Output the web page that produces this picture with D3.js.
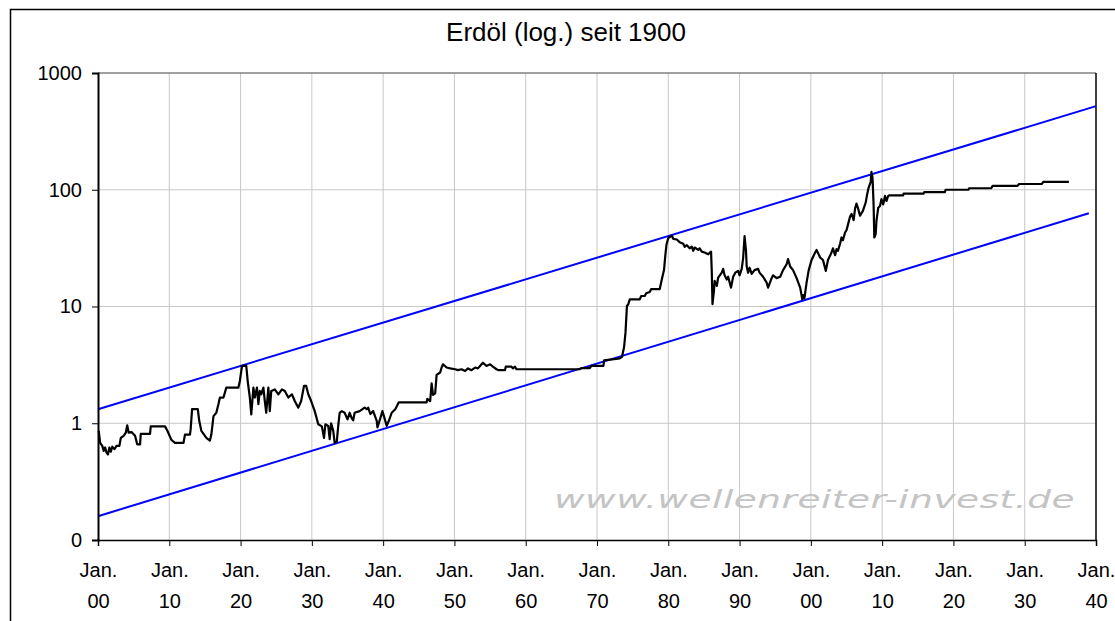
<!DOCTYPE html>
<html>
<head>
<meta charset="utf-8">
<script src="https://cdn.jsdelivr.net/npm/d3@7"></script>
<style>
  body { margin: 0; background: #fff; }
  svg { display: block; font-family: "Liberation Sans", Arial, sans-serif; }
</style>
</head>
<body>
<svg></svg>
<script>
const TITLE = "Erdöl (log.) seit 1900";
const WATERMARK = "www.wellenreiter-invest.de";

// x ticks every 10 years, y ticks every decade
const xTicks = [1900, 1910, 1920, 1930, 1940, 1950, 1960, 1970, 1980, 1990, 2000, 2010, 2020, 2030, 2040];
const yTicks = [0.1, 1, 10, 100, 1000];

// oil price, decimal year / price
const oilYears = [
  1900.1, 1900.3, 1900.6, 1900.8, 1901.0, 1901.2, 1901.4, 1901.6, 1901.8, 1902.0, 1902.3, 1902.6,
  1903.0, 1903.2, 1903.6, 1903.9, 1904.1, 1904.3, 1904.7, 1905.2, 1905.5, 1905.9, 1906.0, 1907.3,
  1907.4, 1909.4, 1909.7, 1910.3, 1910.8, 1912.0, 1912.2, 1912.9, 1913.0, 1913.2, 1914.0, 1914.2,
  1914.5, 1915.2, 1915.7, 1915.9, 1916.2, 1916.6, 1916.9, 1917.1, 1917.6, 1917.8, 1918.0, 1919.7,
  1919.9, 1920.2, 1920.8, 1921.0, 1921.3, 1921.5, 1921.8, 1922.0, 1922.3, 1922.5, 1922.7, 1922.9,
  1923.2, 1923.4, 1923.6, 1923.9, 1924.1, 1924.3, 1924.8, 1925.3, 1925.8, 1926.2, 1926.7, 1927.2,
  1927.6, 1928.1, 1928.5, 1928.9, 1929.2, 1929.5, 1929.9, 1930.4, 1930.9, 1931.4, 1931.7, 1931.9,
  1932.3, 1932.5, 1932.7, 1933.0, 1933.2, 1933.5, 1933.7, 1933.9, 1934.2, 1934.6, 1935.0, 1935.3,
  1935.6, 1935.8, 1936.0, 1936.7, 1937.4, 1937.7, 1937.9, 1938.2, 1938.6, 1939.1, 1939.2, 1939.6,
  1939.9, 1940.2, 1940.5, 1940.8, 1941.2, 1941.7, 1942.2, 1946.1, 1946.2, 1946.6, 1946.8, 1947.0,
  1947.3, 1947.5, 1948.0, 1948.2, 1948.4, 1948.9, 1949.4, 1950.1, 1950.5, 1951.0, 1951.5, 1951.9,
  1952.4, 1952.9, 1953.3, 1953.8, 1954.0, 1954.5, 1955.0, 1955.4, 1955.9, 1956.2, 1957.1, 1957.2,
  1958.0, 1958.2, 1958.5, 1958.7, 1967.6, 1967.8, 1969.0, 1969.2, 1970.9, 1971.0, 1973.2, 1973.5,
  1973.8, 1974.0, 1974.2, 1974.4, 1974.6, 1976.0, 1976.2, 1976.7, 1976.9, 1977.4, 1977.6, 1978.8,
  1979.05, 1979.4, 1979.5, 1979.6, 1979.75, 1980.0, 1980.5, 1980.7, 1981.2, 1981.6, 1982.1, 1982.3,
  1982.6, 1983.0, 1983.3, 1983.5, 1983.7, 1984.2, 1984.4, 1984.7, 1985.1, 1985.6, 1986.0, 1986.1,
  1986.2, 1986.4, 1986.5, 1986.8, 1987.0, 1987.5, 1987.7, 1987.9, 1988.2, 1988.4, 1988.8, 1989.1,
  1989.4, 1989.8, 1990.0, 1990.3, 1990.5, 1990.7, 1990.9, 1991.0, 1991.2, 1991.4, 1991.7, 1992.1,
  1992.6, 1992.8, 1993.3, 1993.8, 1994.0, 1994.5, 1994.7, 1995.2, 1995.7, 1996.1, 1996.6, 1996.8,
  1997.1, 1997.5, 1998.0, 1998.5, 1998.8, 1998.9, 1999.1, 1999.4, 1999.7, 2000.1, 2000.6, 2000.8,
  2001.3, 2001.7, 2002.1, 2002.4, 2002.9, 2003.1, 2003.4, 2003.6, 2003.8, 2004.1, 2004.3, 2004.5,
  2004.8, 2005.0, 2005.2, 2005.5, 2005.7, 2006.0, 2006.2, 2006.4, 2006.6, 2006.9, 2007.1, 2007.3,
  2007.7, 2007.9, 2008.1, 2008.4, 2008.5, 2008.65, 2008.8, 2008.9, 2009.1, 2009.2, 2009.45, 2009.7,
  2009.9, 2010.15, 2010.4, 2010.6, 2010.85, 2011.0, 2012.95, 2013.0, 2015.8, 2015.9, 2018.8, 2018.9,
  2022.1, 2022.2, 2025.3, 2025.5, 2029.0, 2029.2, 2032.4, 2032.6, 2036.2
];
const oilPrices = [
  0.86, 0.68, 0.64, 0.58, 0.62, 0.56, 0.54, 0.62, 0.57, 0.63, 0.60, 0.64,
  0.64, 0.75, 0.78, 0.83, 0.96, 0.83, 0.84, 0.78, 0.66, 0.66, 0.81, 0.81,
  0.94, 0.94, 0.87, 0.72, 0.68, 0.68, 0.80, 0.80, 0.89, 1.32, 1.32, 1.05,
  0.86, 0.75, 0.71, 0.80, 1.15, 1.23, 1.46, 1.66, 1.66, 1.83, 2.02, 2.02,
  2.30, 3.10, 3.10, 2.30, 1.66, 1.19, 2.02, 1.66, 2.02, 1.46, 1.89, 1.77,
  2.02, 1.55, 1.23, 2.02, 1.27, 1.89, 1.95, 1.77, 1.95, 1.89, 1.66, 1.77,
  1.55, 1.36, 1.55, 2.09, 2.09, 1.77, 1.55, 1.27, 0.98, 0.94, 0.75, 0.98,
  0.95, 0.73, 1.00, 0.86, 0.68, 0.70, 0.95, 1.23, 1.27, 1.23, 1.08, 1.23,
  1.10, 1.06, 1.23, 1.27, 1.36, 1.32, 1.36, 1.20, 1.27, 1.05, 0.92, 1.10,
  1.27, 1.10, 0.95, 1.05, 1.23, 1.32, 1.51, 1.51, 1.62, 1.55, 2.20, 1.75,
  1.80, 2.60, 2.72, 3.00, 3.20, 3.00, 2.95, 2.90, 2.85, 2.90, 2.80, 2.95,
  2.85, 3.00, 2.95, 3.20, 3.30, 3.10, 3.20, 3.05, 2.90, 2.85, 2.85, 3.05,
  3.05, 2.95, 3.05, 2.90, 2.90, 2.97, 2.97, 3.10, 3.10, 3.45, 3.60, 3.70,
  4.50, 6.00, 10.1, 10.5, 11.5, 11.5, 12.3, 12.3, 13.0, 13.3, 14.1, 14.1,
  16.6, 20.5, 24.0, 28.0, 34.0, 38.5, 40.5, 38.0, 37.5, 35.5, 34.5, 32.5,
  33.5, 31.5, 32.5, 30.0, 32.0, 30.5, 31.5, 29.5, 29.0, 28.0, 29.5, 20.0,
  10.5, 13.5, 16.6, 15.0, 17.7, 19.5, 21.0, 18.5, 17.0, 18.0, 14.5, 18.0,
  19.5, 20.2, 18.5, 21.0, 26.0, 40.0, 30.0, 22.0, 19.5, 21.5, 19.0, 20.5,
  21.0, 19.5, 18.0, 16.0, 14.5, 17.5, 18.5, 17.5, 18.0, 20.5, 23.0, 25.5,
  22.0, 20.5, 17.5, 14.5, 11.5, 12.5, 11.8, 16.0, 20.5, 25.0, 29.0, 30.5,
  26.3, 25.0, 20.2, 25.0, 29.0, 31.5, 27.5, 31.0, 30.0, 34.5, 39.0, 37.0,
  43.0, 45.0, 50.0, 59.0, 62.0, 55.0, 69.0, 76.0, 70.0, 60.0, 63.0, 66.0,
  78.0, 91.5, 104, 117, 142, 127, 75, 39, 42, 54, 70, 72.5,
  83, 75, 88.5, 80, 88.5, 89.5, 89.5, 92.5, 92.5, 95.5, 95.5, 100,
  100, 103, 103, 108, 108, 112, 112, 117, 117
];

// trend channel (blue lines)
const upperYears = [1900, 2040];
const upperValues = [1.32, 520];
const lowerYears = [1900, 2039];
const lowerValues = [0.16, 63];

const layout = {
  width: 1115,
  height: 621,
  margin: { left: 98, top: 73, right: 19, bottom: 81 },
};

function zip(xs, ys) {
  return xs.map((x, i) => ({ year: x, value: ys[i] }));
}

function render() {
  const { width, height, margin } = layout;
  const innerWidth = width - margin.left - margin.right;
  const innerHeight = height - margin.top - margin.bottom;

  const svg = d3.select("svg").attr("width", width).attr("height", height);

  // outer chart frame (runs off the right/bottom edge)
  svg.append("rect")
    .attr("x", 10.5).attr("y", 9.5)
    .attr("width", width + 20).attr("height", height + 20)
    .attr("fill", "none").attr("stroke", "#000").attr("stroke-width", 1.5);

  svg.append("text")
    .attr("x", 566).attr("y", 41)
    .attr("text-anchor", "middle")
    .attr("font-size", 26)
    .attr("fill", "#000")
    .text(TITLE);

  const x = d3.scaleLinear().domain([1900, 2040]).range([0, innerWidth]);
  const y = d3.scaleLog().domain([0.1, 1000]).range([innerHeight, 0]);

  const plot = svg.append("g").attr("transform", `translate(${margin.left}, ${margin.top})`);

  // grid
  plot.append("g")
    .selectAll("line")
    .data(xTicks.slice(1, -1))
    .join("line")
    .attr("x1", (d) => x(d)).attr("x2", (d) => x(d))
    .attr("y1", 0).attr("y2", innerHeight)
    .attr("stroke", "#c8c8c8").attr("stroke-width", 1);
  plot.append("g")
    .selectAll("line")
    .data(yTicks.slice(1, -1))
    .join("line")
    .attr("x1", 0).attr("x2", innerWidth)
    .attr("y1", (d) => y(d)).attr("y2", (d) => y(d))
    .attr("stroke", "#c8c8c8").attr("stroke-width", 1);

  // plot area border: grey top, black right
  plot.append("line")
    .attr("x1", 0).attr("x2", innerWidth).attr("y1", 0).attr("y2", 0)
    .attr("stroke", "#808080").attr("stroke-width", 1.5);
  plot.append("line")
    .attr("x1", innerWidth).attr("x2", innerWidth).attr("y1", 0).attr("y2", innerHeight)
    .attr("stroke", "#000").attr("stroke-width", 1.5);

  // watermark, horizontally stretched like the pasted picture
  plot.append("text")
    .attr("transform", "translate(456, 435) scale(1.5, 1)")
    .attr("font-family", "'DejaVu Sans', Verdana, sans-serif")
    .attr("font-style", "italic")
    .attr("font-size", 25)
    .attr("fill", "#c4c4c4")
    .attr("textLength", 347)
    .attr("lengthAdjust", "spacing")
    .text(WATERMARK);

  const line = d3.line()
    .x((d) => x(d.year))
    .y((d) => y(d.value));

  // trend channel
  [zip(upperYears, upperValues), zip(lowerYears, lowerValues)].forEach((pts) => {
    plot.append("path")
      .datum(pts)
      .attr("d", line)
      .attr("fill", "none")
      .attr("stroke", "#0000ff")
      .attr("stroke-width", 2);
  });

  // oil price
  plot.append("path")
    .datum(zip(oilYears, oilPrices))
    .attr("d", line)
    .attr("fill", "none")
    .attr("stroke", "#000")
    .attr("stroke-width", 2.2)
    .attr("stroke-linejoin", "round");

  // Y AXIS
  const yAxis = plot.append("g")
    .call(d3.axisLeft(y).tickValues(yTicks).tickSize(6).tickPadding(10)
      .tickFormat((d) => (d < 1 ? "0" : String(d))));
  yAxis.select(".domain").attr("stroke", "#000").attr("stroke-width", 2);
  yAxis.selectAll(".tick line").attr("stroke", "#000");
  yAxis.selectAll(".tick text")
    .attr("font-size", 20).attr("font-family", "'Liberation Sans', Arial, sans-serif")
    .attr("fill", "#000");

  // X AXIS, labels on two lines
  const xAxis = plot.append("g")
    .attr("transform", `translate(0, ${innerHeight})`)
    .call(d3.axisBottom(x).tickValues(xTicks).tickSize(6).tickFormat(() => ""));
  xAxis.select(".domain").attr("stroke", "#000").attr("stroke-width", 1.5);
  xAxis.selectAll(".tick line").attr("stroke", "#000");
  xAxis.selectAll(".tick text").remove();
  const lbl = xAxis.selectAll(".tick")
    .append("text")
    .attr("text-anchor", "middle")
    .attr("font-size", 20)
    .attr("font-family", "'Liberation Sans', Arial, sans-serif")
    .attr("fill", "#000");
  lbl.append("tspan").attr("x", 0).attr("y", 37).text("Jan.");
  lbl.append("tspan").attr("x", 0).attr("y", 68)
    .text((d) => String(d % 100).padStart(2, "0"));
}

render();
</script>
</body>
</html>
